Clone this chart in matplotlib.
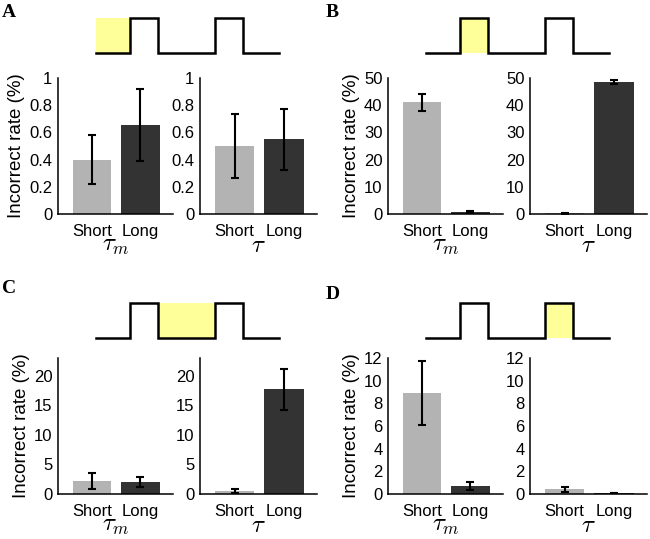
import matplotlib
matplotlib.use('Agg')
import matplotlib.pyplot as plt

plt.rcParams['font.family'] = ['Liberation Sans', 'DejaVu Sans']
plt.rcParams['mathtext.fontset'] = 'cm'

################  data
groups = ['Short', 'Long']
panel_letters = ['A', 'B', 'C', 'D']

# (tau_m means, tau_m err, tau means, tau err) per panel
A_tm = [0.40, 0.655]
A_tm_err = [0.18, 0.265]
A_t = [0.50, 0.55]
A_t_err = [0.235, 0.225]

B_tm = [41.0, 0.8]
B_tm_err = [3.2, 0.4]
B_t = [0.3, 48.5]
B_t_err = [0.2, 0.6]

C_tm = [2.2, 2.1]
C_tm_err = [1.3, 0.85]
C_t = [0.5, 17.7]
C_t_err = [0.3, 3.5]

D_tm = [8.9, 0.7]
D_tm_err = [2.8, 0.35]
D_t = [0.4, 0.08]
D_t_err = [0.25, 0.03]

ylims = [1.0, 50, 23, 12]
yticks = [[0, 0.2, 0.4, 0.6, 0.8, 1], [0, 10, 20, 30, 40, 50],
          [0, 5, 10, 15, 20], [0, 2, 4, 6, 8, 10, 12]]
yticklabels = [['0', '0.2', '0.4', '0.6', '0.8', '1'], None, None, None]

# timing diagram: breakpoints of the two-pulse stimulus
wave_t = [0, 34, 62, 119, 147, 183]
wave_lvl = [0, 1, 0, 1, 0]
shade = [(0, 34), (34, 62), (62, 119), (119, 147)]

bar_colors = ['#b3b3b3', '#333333']

#################  layout (pixels)
W, H = 650, 539
fig = plt.figure(figsize=(W / 100, H / 100), dpi=100)


def px(x0, y0, x1, y1):
    return [x0 / W, 1 - y1 / H, (x1 - x0) / W, (y1 - y0) / H]


panels = [
    (A_tm, A_tm_err, A_t, A_t_err),
    (B_tm, B_tm_err, B_t, B_t_err),
    (C_tm, C_tm_err, C_t, C_t_err),
    (D_tm, D_tm_err, D_t, D_t_err),
]
offsets = [(0, 0), (330, 0), (0, 280), (330, 280)]
wave_dy = [0, 0, 285, 285]
letter_pos = [(2, 17), (326, 17), (2, 293), (326, 299)]


def draw_bars(ax, vals, errs, ylim, ticks, tlabels, xlab, ylabel):
    x = [1, 2]
    ax.bar(x, vals, width=0.8, color=bar_colors)
    ax.errorbar(x, vals, yerr=errs, fmt='none', ecolor='black',
                elinewidth=1.5, capsize=3, capthick=1.5)
    ax.set_xlim(0.3, 2.67)
    ax.set_ylim(0, ylim)
    ax.set_yticks(ticks)
    if tlabels:
        ax.set_yticklabels(tlabels)
    ax.set_xticks(x)
    ax.set_xticklabels(groups)
    ax.tick_params(axis='x', length=0, pad=7, labelsize=12)
    ax.tick_params(axis='y', length=0, pad=4, labelsize=12)
    for s in ['top', 'right']:
        ax.spines[s].set_visible(False)
    for s in ['left', 'bottom']:
        ax.spines[s].set_linewidth(1.1)
    ax.set_xlabel(xlab, fontsize=18, labelpad=-4)
    if ylabel:
        ax.set_ylabel('Incorrect rate (%)', fontsize=13.5, labelpad=3)


for i, (tm, tm_e, t, t_e) in enumerate(panels):
    dx, dy = offsets[i]
    wy = wave_dy[i]
    # stimulus diagram
    axw = fig.add_axes(px(96 + dx, 18 + wy, 279 + dx, 53 + wy))
    xs, ys = [], []
    for k, lv in enumerate(wave_lvl):
        xs += [wave_t[k], wave_t[k + 1]]
        ys += [lv, lv]
    a, b = shade[i]
    axw.fill_between([a, b], 0, 1, color='#ffff99', lw=0)
    axw.plot(xs, ys, color='black', lw=1.8, clip_on=False,
             solid_joinstyle='miter')
    axw.set_xlim(wave_t[0], wave_t[-1])
    axw.set_ylim(0, 1)
    axw.axis('off')

    ax1 = fig.add_axes(px(58 + dx, 78 + dy, 173 + dx, 214 + dy))
    draw_bars(ax1, tm, tm_e, ylims[i], yticks[i], yticklabels[i],
              r'$\tau_m$', True)
    ax2 = fig.add_axes(px(200 + dx, 78 + dy, 317 + dx, 214 + dy))
    draw_bars(ax2, t, t_e, ylims[i], yticks[i], yticklabels[i],
              r'$\tau$', False)

    lx, ly = letter_pos[i]
    fig.text(lx / W, 1 - ly / H, panel_letters[i], fontsize=14,
             fontweight='bold', family='Liberation Serif')

fig.savefig('out.png', dpi=100)
